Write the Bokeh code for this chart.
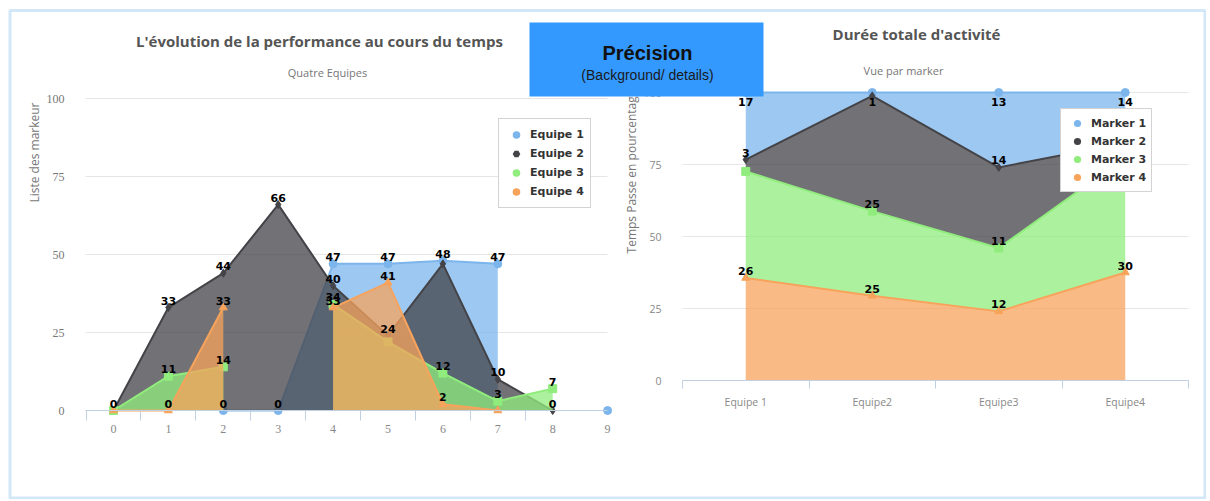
import numpy as np
from bokeh.plotting import figure
from bokeh.models import (Range1d, LinearAxis, FixedTicker, Grid, Label, BoxAnnotation,
                          Legend, LegendItem)
from bokeh.core.properties import value
from bokeh.embed import file_html
from bokeh.resources import INLINE

# ------------------------------------------------------------------ data
steps = [0, 1, 2, 3, 4, 5, 6, 7, 8, 9]
teams = ["Equipe 1", "Equipe 2", "Equipe 3", "Equipe 4"]
equipe_1 = [None, None, 0, 0, 47, 47, 48, 47, None, 0]
equipe_2 = [0, 33, 44, 66, 40, 24, 47, 10, 0, None]
equipe_3 = [0, 11, 14, None, 34, 22, 12, 3, 7, None]
equipe_4 = [0, 0, 33, None, 33, 41, 2, 0, None, None]
left_y_ticks = [0, 25, 50, 75, 100]
left_hidden_labels = [(0, 9), (1, 6), (2, 0), (2, 5), (3, 0), (3, 7)]

categories = ["Equipe 1", "Equipe2", "Equipe3", "Equipe4"]
marker_names = ["Marker 1", "Marker 2", "Marker 3", "Marker 4"]
marker_1 = [17, 1, 13, 14]
marker_2 = [3, 34, 14, 4]
marker_3 = [27, 25, 11, 32]
marker_4 = [26, 25, 12, 30]
right_y_ticks = [0, 25, 50, 75, 100]
right_hidden_labels = [(1, 1), (1, 3), (2, 0), (2, 3)]

left_title = "L'évolution de la performance au cours du temps"
left_subtitle = "Quatre Equipes"
left_y_title = "Liste des markeur"
right_title = "Durée totale d'activité"
right_subtitle = "Vue par marker"
right_y_title = "Temps Passe en pourcentage"
box_title = "Précision"
box_subtitle = "(Background/ details)"

colors = ["#7cb5ec", "#434348", "#90ed7d", "#f7a35c"]
shapes = ["circle", "diamond", "square", "triangle"]
left_legend_shapes = ["circle", "hex", "circle", "circle"]

# ------------------------------------------------------------------ layout (page pixels)
W, H, M = 1206, 499, 0
L_X0, L_DX = 113.0, 54.9     # page x of step 0, px per step
L_Y0, L_DY = 410.0, 3.12     # page y of value 0, px per unit
R_X0, R_DX = 745.25, 126.5   # page x of first category, px per category
R_Y0, R_DY = 380.0, 2.88     # page y of 0 %, px per %


def lx(px):
    return (px - L_X0) / L_DX


def ly(py):
    return (L_Y0 - py) / L_DY


L_XMIN, L_XMAX = lx(85), steps[-1]

p = figure(width=W, height=H, output_backend="svg", toolbar_location=None,
           x_range=Range1d(lx(M), lx(M + W)), y_range=Range1d(ly(M + H), ly(M)),
           x_axis_type=None, y_axis_type=None, min_border=0,
           outline_line_color=None, background_fill_color="white",
           border_fill_color="white")
p.extra_x_ranges = {"rx": Range1d((M - R_X0) / R_DX, (M + W - R_X0) / R_DX)}
p.extra_y_ranges = {"ry": Range1d((R_Y0 - (M + H)) / R_DY, (R_Y0 - M) / R_DY)}

# ------------------------------------------------------------------ grids
p.add_layout(Grid(dimension=1, ticker=FixedTicker(ticks=left_y_ticks[1:]),
                  cross_bounds=(L_XMIN, L_XMAX), grid_line_color="#e6e6e6"))
p.add_layout(Grid(dimension=1, ticker=FixedTicker(ticks=right_y_ticks[1:]),
                  x_range_name="rx", y_range_name="ry",
                  cross_bounds=(-0.5, len(categories) - 0.5), grid_line_color="#e6e6e6"))

# ------------------------------------------------------------------ left chart series
left_series = [equipe_1, equipe_2, equipe_3, equipe_4]


def runs(xs, ys):
    out, cur = [], []
    for xv, yv in zip(xs, ys):
        if yv is None:
            if cur:
                out.append(cur)
            cur = []
        else:
            cur.append((xv, yv))
    if cur:
        out.append(cur)
    return out


left_legend_items = []
for si, vals in enumerate(left_series):
    c = colors[si]
    for run in runs(steps, vals):
        rx = [a for a, _ in run]
        ry = [b for _, b in run]
        if len(run) > 1:
            p.varea(x=rx, y1=0, y2=ry, fill_color=c, fill_alpha=0.75)
            p.line(rx, ry, line_color=c, line_width=2)
    vx = [x for x, v in zip(steps, vals) if v is not None]
    vy = [v for v in vals if v is not None]
    p.scatter(vx, vy, marker=shapes[si], size=8, fill_color=c, line_color=c)
    lg = p.scatter(vx, vy, marker=left_legend_shapes[si], size=0, fill_color=c, line_color=None)
    left_legend_items.append(LegendItem(label=teams[si], renderers=[lg]))

for si, vals in enumerate(left_series):
    tx = [x for x, v in zip(steps, vals) if v is not None and (si, x) not in left_hidden_labels]
    ty = [v for x, v in zip(steps, vals) if v is not None and (si, x) not in left_hidden_labels]
    p.text(x=tx, y=ty, text=[str(v) for v in ty], text_align="center", text_baseline="bottom",
           y_offset=-3, text_font=value("DejaVu Sans"), text_font_style="bold",
           text_font_size="11px", text_color="#000000")

# ------------------------------------------------------------------ right chart (percent stacked)
counts = np.array([marker_1, marker_2, marker_3, marker_4], dtype=float)
pct = counts / counts.sum(axis=0) * 100.0
tops = np.cumsum(pct[::-1], axis=0)[::-1]
bottoms = tops - pct
cat_x = list(range(len(categories)))

right_legend_items = []
for si in range(len(marker_names)):
    c = colors[si]
    p.varea(x=cat_x, y1=bottoms[si], y2=tops[si], fill_color=c, fill_alpha=0.75,
            x_range_name="rx", y_range_name="ry")
    p.line(cat_x, tops[si], line_color=c, line_width=2, x_range_name="rx", y_range_name="ry")
for si in range(len(marker_names)):
    c = colors[si]
    p.scatter(cat_x, tops[si], marker=shapes[si], size=8, fill_color=c, line_color=c,
              x_range_name="rx", y_range_name="ry")
    lg = p.scatter(cat_x, tops[si], marker="circle", size=0, fill_color=c, line_color=None,
                   x_range_name="rx", y_range_name="ry")
    right_legend_items.append(LegendItem(label=marker_names[si], renderers=[lg]))

for si in range(len(marker_names)):
    keep = [i for i in cat_x if (si, i) not in right_hidden_labels]
    for below in (False, True):
        ids = [i for i in keep if (tops[si][i] >= 99.5) == below]
        if not ids:
            continue
        p.text(x=ids, y=[tops[si][i] for i in ids], text=[str(int(counts[si][i])) for i in ids],
               text_align="center", text_baseline="top" if below else "bottom",
               y_offset=5 if below else -3, text_font=value("DejaVu Sans"),
               text_font_style="bold", text_font_size="11px", text_color="#000000",
               x_range_name="rx", y_range_name="ry")

# ------------------------------------------------------------------ axes
AX = "#c0d0e0"
# left chart: x tick marks (between categories) + labels
ax_marks = LinearAxis(fixed_location=0, bounds=(L_XMIN, L_XMAX),
                      ticker=FixedTicker(ticks=[s - 0.5 for s in steps[:-1]]),
                      major_label_overrides={s - 0.5: "" for s in steps[:-1]},
                      axis_line_color=AX, major_tick_line_color=AX, major_tick_out=10,
                      major_tick_in=0, minor_tick_line_color=None)
p.add_layout(ax_marks, "below")
ax_lab = LinearAxis(fixed_location=0, ticker=FixedTicker(ticks=steps),
                    axis_line_color=None, major_tick_line_color=None, minor_tick_line_color=None,
                    major_label_standoff=8, major_label_text_font="Liberation Serif",
                    major_label_text_font_size="12px", major_label_text_color="#888888")
p.add_layout(ax_lab, "below")
ay_l = LinearAxis(fixed_location=L_XMIN, ticker=FixedTicker(ticks=left_y_ticks),
                  axis_line_color=None, major_tick_line_color=None, minor_tick_line_color=None,
                  major_label_standoff=15, major_label_text_font="Liberation Serif",
                  major_label_text_font_size="12px", major_label_text_color="#777777")
p.add_layout(ay_l, "left")

# right chart
rx_marks = LinearAxis(fixed_location=0, bounds=(-0.5, len(categories) - 0.5),
                      ticker=FixedTicker(ticks=[i - 0.5 for i in range(len(categories) + 1)]),
                      major_label_overrides={i - 0.5: "" for i in range(len(categories) + 1)},
                      axis_line_color=AX, major_tick_line_color=AX, major_tick_out=8,
                      major_tick_in=0, minor_tick_line_color=None,
                      x_range_name="rx", y_range_name="ry")
p.add_layout(rx_marks, "below")
rx_lab = LinearAxis(fixed_location=0, ticker=FixedTicker(ticks=cat_x),
                    major_label_overrides={i: categories[i] for i in cat_x},
                    axis_line_color=None, major_tick_line_color=None, minor_tick_line_color=None,
                    major_label_standoff=8, major_label_text_font="Open Sans",
                    major_label_text_font_size="10.5px", major_label_text_color="#888888",
                    x_range_name="rx", y_range_name="ry")
p.add_layout(rx_lab, "below")
ry_ax = LinearAxis(fixed_location=-0.5, ticker=FixedTicker(ticks=right_y_ticks),
                   axis_line_color=None, major_tick_line_color=None, minor_tick_line_color=None,
                   major_label_standoff=15, major_label_text_font="Open Sans",
                   major_label_text_font_size="10.5px", major_label_text_color="#888888",
                   x_range_name="rx", y_range_name="ry")
p.add_layout(ry_ax, "left")

# ------------------------------------------------------------------ legends
legend_style = dict(background_fill_color="white", background_fill_alpha=1.0,
                    border_line_color="#a8a8a8", border_line_width=1, margin=0,
                    label_text_font="DejaVu Sans", label_text_font_size="11px",
                    label_text_font_style="bold", label_text_color="#333333",
                    label_standoff=3, spacing=0)
p.add_layout(Legend(items=left_legend_items, location=(498 - M, M + H - 208),
                    padding=6, glyph_width=22, glyph_height=19, label_height=19,
                    **legend_style))
p.add_layout(Legend(items=right_legend_items, location=(1060 - M, M + H - 192),
                    padding=5, glyph_width=22, glyph_height=18, label_height=18,
                    **legend_style))

# ------------------------------------------------------------------ texts
def add_label(text, px, py, size, color, style="normal", font="Open Sans", angle=0.0):
    p.add_layout(Label(x=lx(px), y=ly(py), text=text, text_align="center",
                       text_baseline="middle", text_font=font, text_font_size=size,
                       text_font_style=style, text_color=color, angle=angle))


add_label(left_title, 319, 40, "15px", "#555555", "bold")
add_label(left_subtitle, 327, 72, "11px", "#777777")
add_label(left_y_title, 34, 152, "12px", "#777777", angle=np.pi / 2)
add_label(right_title, 916, 33, "15px", "#555555", "bold")
add_label(right_subtitle, 903, 70, "11px", "#777777")
add_label(right_y_title, 631, 171, "12px", "#777777", angle=np.pi / 2)

p.add_layout(BoxAnnotation(left=lx(529), right=lx(763), top=ly(22), bottom=ly(96),
                           fill_color="#3399ff", fill_alpha=1.0, line_color=None))
add_label(box_title, 647, 52, "20px", "#111111", "bold", font="Liberation Sans")
add_label(box_subtitle, 647, 74, "14px", "#1a1a1a", font="Liberation Sans")

# outer frame
p.add_layout(BoxAnnotation(left=lx(9.5), right=lx(1204.5), top=ly(10), bottom=ly(497.5),
                           fill_color=None, line_color="#6aaee8", line_width=3))

open("out.html", "w").write(file_html(p, INLINE))
